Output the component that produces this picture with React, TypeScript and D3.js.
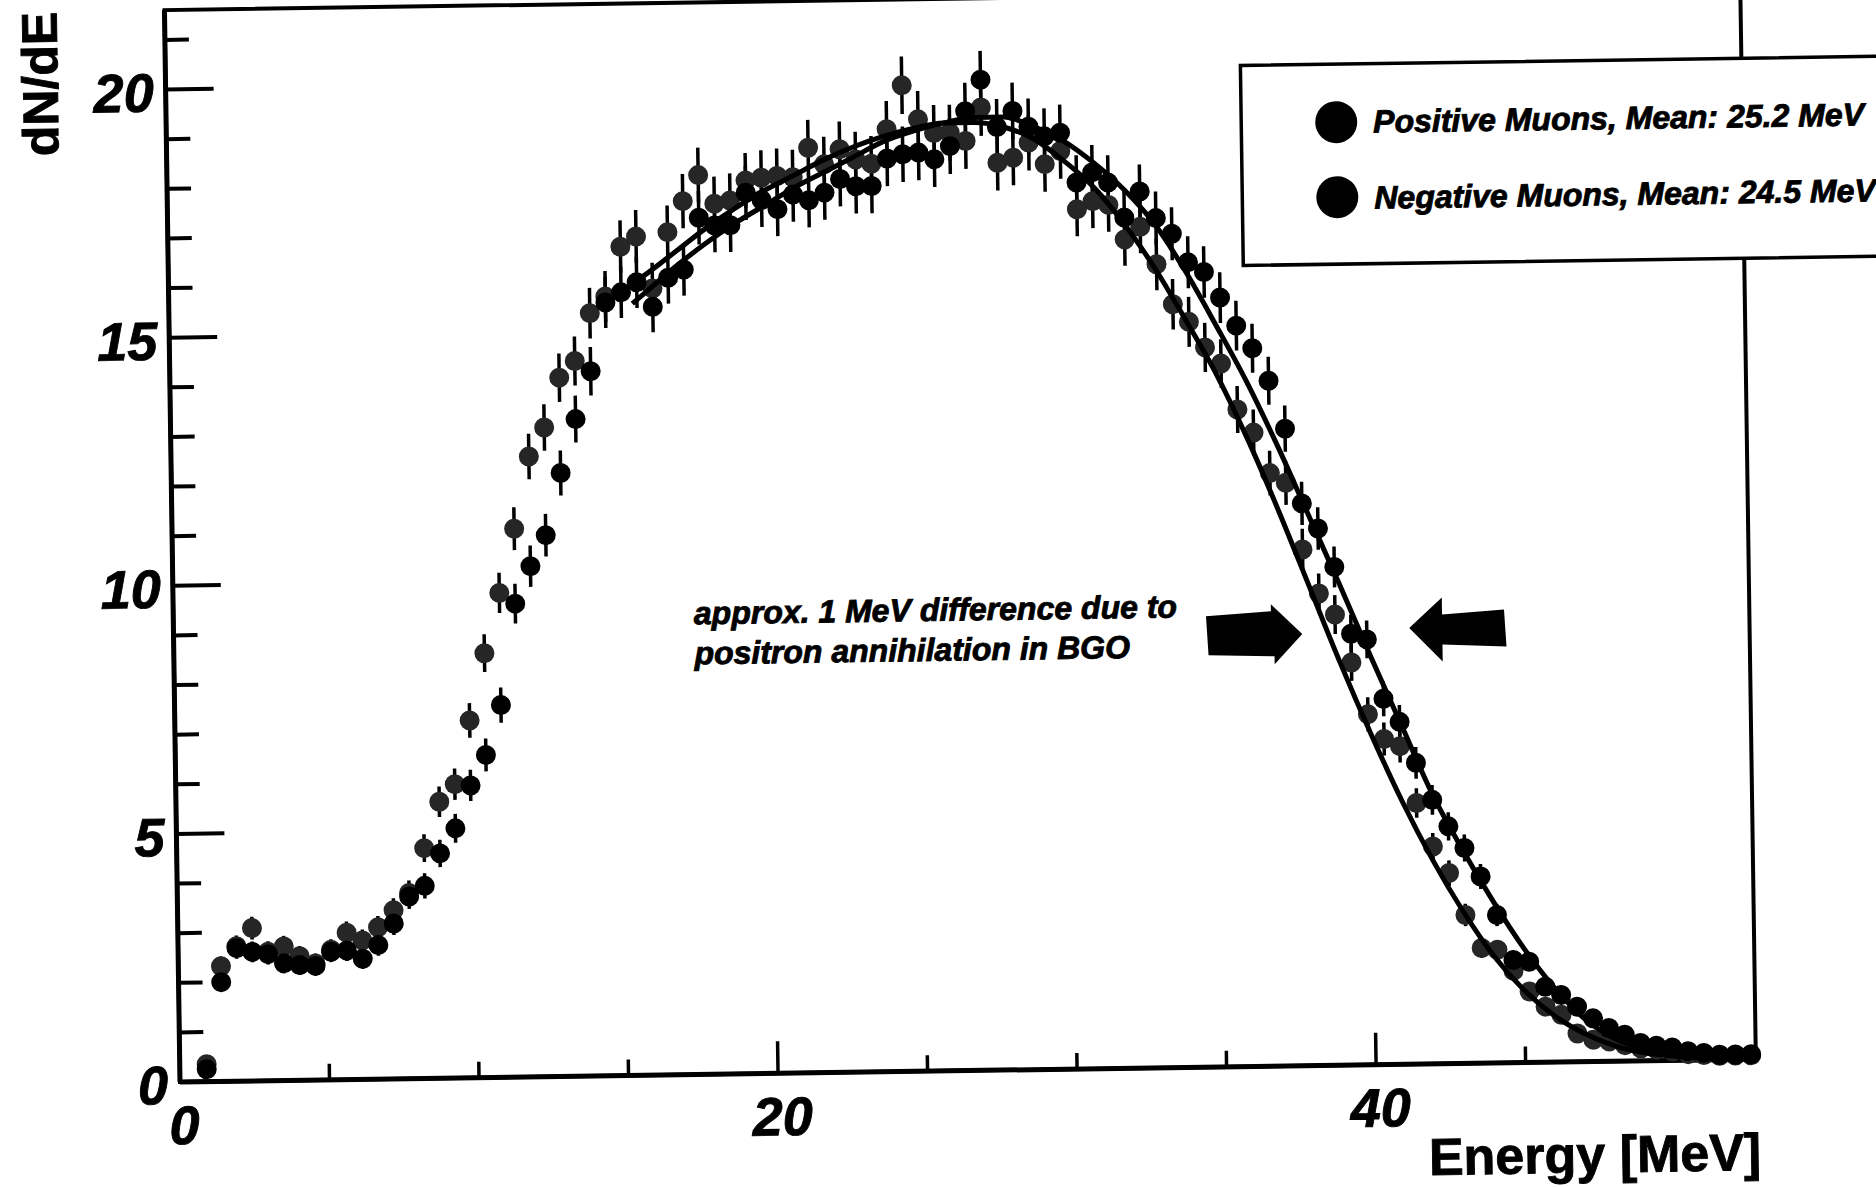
import React from 'react';
import * as d3 from 'd3';

// histogram binning (bin centres in MeV)
const firstBinCenter = 0.9;
const binWidth = 0.527;

// dN/dE per bin, negative muons (left-shifted spectrum)
const negMuons = [
  0.35, 2.32, 2.72, 3.08, 2.6, 2.7, 2.5, 2.35, 2.62, 2.96,
  2.8, 3.06, 3.4, 3.74, 4.64, 5.57, 5.92, 7.2, 8.55, 9.76,
  11.05, 12.5, 13.08, 14.08, 14.41, 15.37, 15.7, 16.7, 16.9, 15.85,
  16.98, 17.6, 18.12, 17.54, 17.6, 18.0, 18.05, 18.08, 18.05, 18.64,
  18.3, 18.6, 18.39, 18.3, 18.99, 19.87, 19.18, 18.9, 18.9, 18.73,
  19.4, 18.28, 18.38, 18.68, 18.24, 18.5, 17.32, 17.48, 17.4, 16.7,
  16.95, 16.19, 15.38, 15.02, 14.5, 14.17, 13.24, 12.77, 11.95, 11.75,
  10.4, 9.51, 9.08, 8.11, 7.06, 6.56, 6.41, 5.26, 4.38, 3.84,
  2.99, 2.32, 2.28, 1.85, 1.43, 1.12, 0.95, 0.57, 0.44, 0.4,
  0.32, 0.25, 0.22, 0.18, 0.12, 0.1, 0.08, 0.08, 0.08,
];

// dN/dE per bin, positive muons
const posMuons = [
  0.25, 2.0, 2.68, 2.6, 2.55, 2.36, 2.32, 2.3, 2.58, 2.6,
  2.43, 2.7, 3.13, 3.67, 3.88, 4.53, 5.03, 5.89, 6.5, 7.5,
  9.54, 10.29, 10.91, 12.16, 13.24, 14.2, 15.58, 15.78, 15.98, 15.48,
  16.06, 16.22, 17.26, 17.1, 17.1, 17.75, 17.6, 17.41, 17.7, 17.58,
  17.73, 18.0, 17.85, 17.85, 18.4, 18.48, 18.51, 18.37, 18.63, 19.33,
  19.96, 19.0, 19.32, 19.0, 18.8, 18.87, 17.86, 18.06, 17.85, 17.14,
  17.66, 17.12, 16.8, 16.22, 16.02, 15.5, 14.93, 14.47, 13.81, 12.84,
  11.33, 10.82, 10.04, 8.69, 8.57, 7.37, 6.9, 6.07, 5.32, 4.78,
  4.34, 3.76, 2.98, 2.07, 2.03, 1.52, 1.35, 1.11, 0.87, 0.67,
  0.53, 0.36, 0.3, 0.26, 0.18, 0.14, 0.1, 0.1, 0.1,
];

// fit curves, sampled
const fitEnergy = [
  15.5, 16, 17, 18, 19, 20, 21, 22, 23, 24, 25, 26, 27, 28, 29, 30, 31, 32, 33,
  34, 35, 36, 37, 38, 39, 40, 41, 42, 43, 44, 45, 46, 47, 48, 49, 50, 51, 52,
];
const negFit = [
  15.95, 16.15, 16.6, 17.05, 17.45, 17.8, 18.1, 18.4, 18.65, 18.85, 19.0, 19.1, 19.1, 19.0, 18.75, 18.3, 17.75, 17.0, 16.1,
  15.05, 13.95, 12.65, 11.2, 9.65, 8.1, 6.65, 5.3, 4.1, 3.05, 2.15, 1.45, 0.93, 0.56, 0.31, 0.16, 0.08, 0.04, 0.02,
];
const posFit = [
  15.55, 15.8, 16.3, 16.75, 17.15, 17.5, 17.85, 18.15, 18.45, 18.75, 18.95, 19.1, 19.2, 19.2, 19.0, 18.7, 18.25, 17.7, 17.0,
  16.05, 14.95, 13.8, 12.5, 11.1, 9.7, 8.25, 6.85, 5.45, 4.3, 3.25, 2.3, 1.5, 0.86, 0.45, 0.23, 0.11, 0.06, 0.03,
];

const yTickLabels = [0, 5, 10, 15, 20];
const xTickLabels = [0, 20, 40];
const legendLabels = ['Positive Muons, Mean: 25.2 MeV', 'Negative Muons, Mean: 24.5 MeV'];
const noteLines = ['approx. 1 MeV difference due to', 'positron annihilation in BGO'];

const errScale = 0.13; // ~sqrt(N) statistical errors
const tilt = -0.83; // the scanned page is slightly rotated

const font = "'Liberation Sans', Arial, Helvetica, sans-serif";

export default function App() {
  const W = 1876;
  const H = 1187;
  const xMax = 52.7;
  const yMax = 21.6;
  const x = d3.scaleLinear().domain([0, xMax]).range([180, 1756]);
  const y = d3.scaleLinear().domain([0, yMax]).range([1082, 10]);

  const energy = negMuons.map((_, i) => firstBinCenter + i * binWidth);

  const line = d3
    .line<number>()
    .x((_, i) => x(fitEnergy[i]))
    .y((d) => y(d))
    .curve(d3.curveMonotoneX);

  const series = [
    { values: negMuons, fill: '#262626' },
    { values: posMuons, fill: '#000' },
  ];

  const yTicks = d3.range(0, 22);
  const xTicks = d3.range(0, 55, 5);

  // block arrows, drawn around their tips
  const arrowRight = [[0, 0], [-31, -30], [-31, -23], [-96, -19], [-94, 20], [-28, 22], [-28, 30]];
  const arrowLeft = [[0, 0], [33, -30], [33, -13], [95, -17], [97, 20], [33, 17], [33, 34]];
  const tip1 = [x(37.74), y(8.7)];
  const tip2 = [x(41.32), y(8.79)];
  const poly = (pts: number[][], t: number[]) => pts.map((p) => `${t[0] + p[0]},${t[1] + p[1]}`).join(' ');

  // heavy printed look
  const heavy = { stroke: '#000', strokeWidth: 0.9 };

  return (
    <svg
      width={W}
      height={H}
      style={{ position: 'absolute', left: 0, top: 0, display: 'block' }}
      fontFamily={font}
    >
      <rect width={W} height={H} fill="#fff" />
      <g transform={`rotate(${tilt} ${x(0)} ${y(0)})`}>
        {/* frame */}
        <rect x={x(0)} y={y(yMax)} width={x(xMax) - x(0)} height={y(0) - y(yMax)} fill="none" stroke="#000" strokeWidth={4} />
        <line x1={x(0)} x2={x(0)} y1={y(yMax)} y2={y(0)} stroke="#000" strokeWidth={5} />
        <line x1={x(0)} x2={x(xMax)} y1={y(0)} y2={y(0)} stroke="#000" strokeWidth={5} />

        {/* y ticks */}
        {yTicks.map((t) => (
          <line key={'yt' + t} x1={x(0)} x2={x(0) + (t % 5 === 0 ? 48 : 24)} y1={y(t)} y2={y(t)} stroke="#000" strokeWidth={4} />
        ))}
        {/* x ticks */}
        {xTicks.map((t) => (
          <line key={'xt' + t} x1={x(t)} x2={x(t)} y1={y(0)} y2={y(0) - (t % 20 === 0 ? 32 : 16)} stroke="#000" strokeWidth={3.5} />
        ))}

        {yTickLabels.map((t) => (
          <text key={'yl' + t} x={x(0) - 12} y={y(t) + 22} textAnchor="end" fontSize={54} fontWeight="bold" fontStyle="italic" {...heavy}>
            {t}
          </text>
        ))}
        {xTickLabels.map((t) => (
          <text key={'xl' + t} x={x(t) + 4} y={y(0) + 62} textAnchor="middle" fontSize={54} fontWeight="bold" fontStyle="italic" {...heavy}>
            {t}
          </text>
        ))}

        <text x={1760} y={1193} textAnchor="end" fontSize={52} fontWeight="bold" {...heavy}>
          Energy [MeV]
        </text>
        <text transform="translate(72,10) rotate(-90)" textAnchor="end" fontSize={50} fontWeight="bold" {...heavy}>
          dN/dE
        </text>

        {/* error bars */}
        {series.map((s, si) =>
          s.values.map((v, i) => {
            const e = errScale * Math.sqrt(v);
            return (
              <line
                key={`e${si}-${i}`}
                x1={x(energy[i])}
                x2={x(energy[i])}
                y1={y(v - e)}
                y2={y(v + e)}
                stroke="#000"
                strokeWidth={3.5}
              />
            );
          })
        )}
        {/* markers */}
        {series.map((s, si) =>
          s.values.map((v, i) => (
            <circle key={`p${si}-${i}`} cx={x(energy[i])} cy={y(v)} r={10} fill={s.fill} />
          ))
        )}
        {/* fits */}
        <path d={line(negFit) || ''} fill="none" stroke="#000" strokeWidth={5} />
        <path d={line(posFit) || ''} fill="none" stroke="#000" strokeWidth={5} />

        {/* annotation */}
        {noteLines.map((t, i) => (
          <text key={'n' + i} x={x(17.41)} y={y(9.07) + i * 40} fontSize={32} fontWeight="bold" fontStyle="italic" {...heavy}>
            {t}
          </text>
        ))}
        <polygon points={poly(arrowRight, tip1)} fill="#000" />
        <polygon points={poly(arrowLeft, tip2)} fill="#000" />

        {/* legend */}
        <rect x={1255} y={81} width={800} height={200} fill="#fff" stroke="#000" strokeWidth={3.5} />
        {legendLabels.map((t, i) => (
          <g key={'lg' + i}>
            <circle cx={1350} cy={139 + i * 75} r={21} fill="#000" />
            <text x={1387} y={150 + i * 76} fontSize={32} fontWeight="bold" fontStyle="italic" {...heavy}>
              {t}
            </text>
          </g>
        ))}
      </g>
    </svg>
  );
}
